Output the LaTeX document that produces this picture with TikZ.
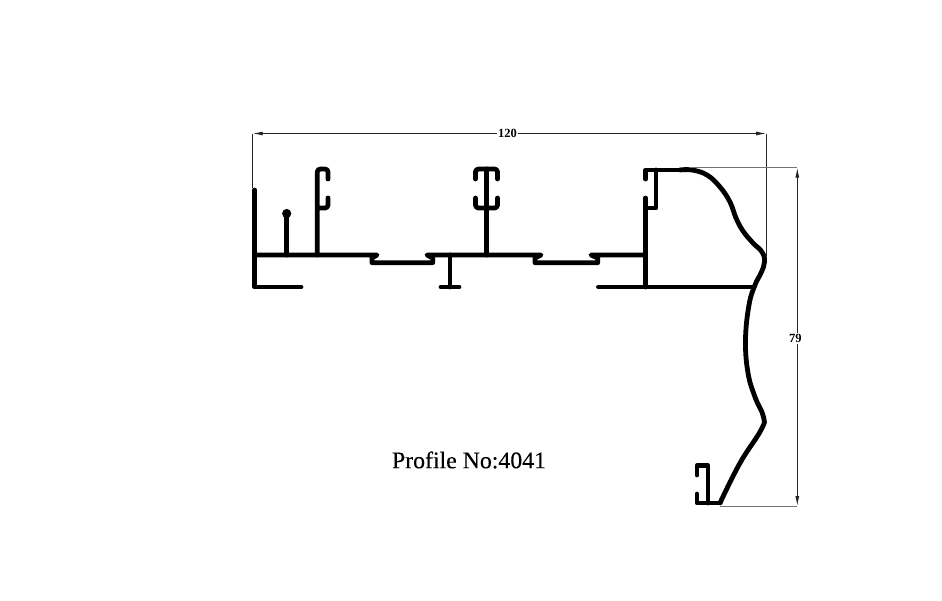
\documentclass[tikz,border=0pt]{standalone}
\usepackage{fontspec}
\setmainfont{Liberation Serif}
\newfontfamily\titlefont[FakeBold=0.25]{Liberation Serif}
\usetikzlibrary{arrows.meta}
\tikzset{
  profile/.style={
    line width=4.8pt,
    line join=round,
    line cap=round
  },
  dimline/.style={
    line width=0.9pt,
    draw=black!85
  },
  extline/.style={
    line width=0.9pt,
    draw=black!55
  },
  dimtip/.style={
    {Latex[length=10pt,width=4pt]}-{Latex[length=10pt,width=4pt]}
  },
  dimlabel/.style={
    fill=white,
    inner sep=1.5pt,
    font=\fontsize{12.5}{14}\selectfont\bfseries
  }
}

\begin{document}
\begin{tikzpicture}[x=1pt,y=-1pt]
        \useasboundingbox (0,0) rectangle (942,600);

        \draw [profile] (254.5,190) to (254.5,287) to (301,287);
        \draw [profile] (254.5,255) to (377,255) to (372,258) to (372,262.7) to (432.7,262.7) to (432.7,258) to (427,255) to (541,255) to (535,258) to (535,262.7) to (597.7,262.7) to (597.7,258) to (591,255) to (645.5,255);

        \draw [profile] (286.7,255) to (286.7,214);
        \fill (286.7,213.5) circle (4.6pt);

        \draw [profile] (317.3,255) to (317.3,172) [rounded corners=3pt] to (317.3,169) to (328,169) [sharp corners] to (328,179);
        \draw [profile,rounded corners=3pt] (317.3,208) to (328,208) to (328,198);

        \draw [profile] (450,255) to (450,287);
        \draw [profile] (441,287) to (459,287);

        \draw [profile] (486.7,255) to (486.7,169);
        \draw [profile,rounded corners=3pt] (475.5,179) to (475.5,169) to (497.5,169) to (497.5,179);
        \draw [profile,rounded corners=3pt] (475.5,198) to (475.5,208) to (497.5,208) to (497.5,198);

        \draw [profile] (645.5,287) to (645.5,198);
        \draw [profile] (645.5,179) to (645.5,170) to (690,170);
        \draw [profile] (656,170) to (656,208) to (645.5,208);
        \draw [profile] (598.5,287) to (752,287);

        \draw [profile] plot [smooth,tension=0.7] coordinates {(680,170) (692,170) (707,175) (720,187) (730,202) (736,218) (743,231) (753,243) (762,252) (764.5,262) (761,273) (755,285) (749,305) (745.5,340) (748,373) (755,397) (763.5,417) (761,430) (740,463) (720,503)};
        \draw [profile] (720,503) to (697,503) to (697,494);
        \draw [profile] (708,503) to (708,465.5) to (697,465.5) to (697,475);

        \coordinate (WidthL) at (252.7,133.5);
        \coordinate (WidthR) at (766.2,133.5);
        \coordinate (HeightT) at (797.3,167.7);
        \coordinate (HeightB) at (797.3,506);

        \draw [dimline] (252.7,188) to (WidthL);
        \draw [dimline] (766.2,258) to (WidthR);
        \draw [extline] (690,167.7) to (HeightT);
        \draw [extline] (720,506) to (HeightB);
        \draw [dimline,dimtip] (WidthL) to node [dimlabel,xshift=-2pt] (WidthText) {120} (WidthR);
        \draw [dimline,dimtip] (HeightT) to node [dimlabel,pos=0.504,xshift=-2pt] (HeightText) {79} (HeightB);

        \node [font=\fontsize{23.8}{28}\selectfont\titlefont] (Title) at (469,460) {Profile No:4041};
      \end{tikzpicture}
\end{document}
